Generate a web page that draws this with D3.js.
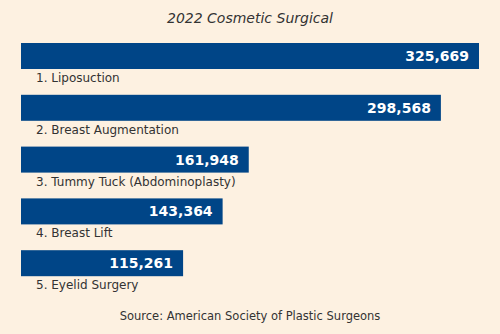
<!DOCTYPE html>
<html>
<head>
<meta charset="utf-8">
<script src="https://cdn.jsdelivr.net/npm/d3@7"></script>
<style>
  html, body { margin: 0; padding: 0; background: #fdf1e1; }
  svg { display: block; font-family: "DejaVu Sans", Verdana, sans-serif; }
</style>
</head>
<body>
<svg id="chart" width="500" height="334"></svg>
<script>
// Top five cosmetic surgical procedures, 2022
const procedures = ["1. Liposuction", "2. Breast Augmentation", "3. Tummy Tuck (Abdominoplasty)", "4. Breast Lift", "5. Eyelid Surgery"];
const counts = [325669, 298568, 161948, 143364, 115261];
const titleText = "2022 Cosmetic Surgical";
const sourceText = "Source: American Society of Plastic Surgeons";

const svg = d3.select("#chart");
const W = 500, H = 334;
const left = 21, right = 479;

svg.append("rect").attr("width", W).attr("height", H).attr("fill", "#fdf1e1");

const x = d3.scaleLinear().domain([0, d3.max(counts)]).range([left, right]);
const y = d3.scaleBand().domain(procedures).range([43, 302]).paddingInner(0).paddingOuter(0);
const barH = 26;

svg.append("text")
  .attr("x", W / 2).attr("y", 23)
  .attr("text-anchor", "middle")
  .attr("font-size", 14).attr("font-style", "italic")
  .attr("fill", "#333")
  .text(titleText);

const rows = svg.selectAll("g.row")
  .data(procedures.map((p, i) => ({ name: p, value: counts[i] })))
  .join("g").attr("class", "row")
  .attr("transform", d => `translate(0,${y(d.name)})`);

rows.append("rect")
  .attr("x", x(0)).attr("y", 0)
  .attr("width", d => x(d.value) - x(0))
  .attr("height", barH)
  .attr("fill", "#004587");

rows.append("text")
  .attr("x", d => x(d.value) - 10)
  .attr("y", barH / 2 + 5)
  .attr("text-anchor", "end")
  .attr("font-size", 14).attr("font-weight", "bold")
  .attr("fill", "#ffffff")
  .text(d => d3.format(",")(d.value));

rows.append("text")
  .attr("x", 36)
  .attr("y", barH + 13)
  .attr("font-size", 12)
  .attr("fill", "#333")
  .text(d => d.name);

svg.append("text")
  .attr("x", W / 2).attr("y", 320)
  .attr("text-anchor", "middle")
  .attr("font-size", 11.5)
  .attr("fill", "#333")
  .text(sourceText);
</script>
</body>
</html>
